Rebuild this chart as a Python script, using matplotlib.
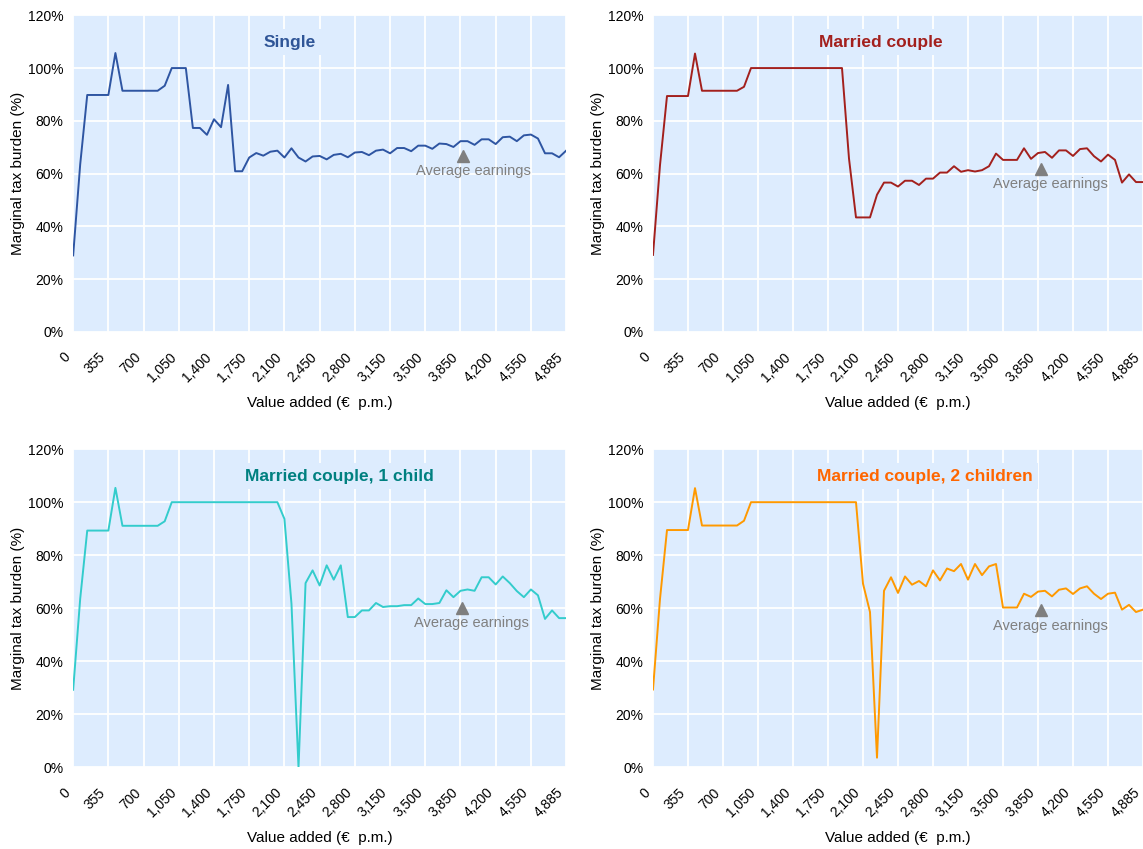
import matplotlib.pyplot as plt
import numpy as np

plt.rcParams['font.family'] = ['Liberation Sans', 'DejaVu Sans']

# Marginal tax burden (%) per income step (71 steps)
single = [29, 63.5, 89.8, 89.8, 89.8, 89.8, 105.7, 91.4, 91.4, 91.4,
          91.4, 91.4, 91.4, 93.3, 100, 100, 100, 77.3, 77.3, 74.7,
          80.6, 77.6, 93.6, 60.9, 60.9, 66.1, 67.8, 66.8, 68.3, 68.7,
          66.1, 69.6, 66.1, 64.6, 66.5, 66.7, 65.4, 67.1, 67.5, 66.2,
          68.0, 68.2, 67.0, 68.7, 69.1, 67.7, 69.7, 69.7, 68.5, 70.6,
          70.6, 69.4, 71.4, 71.2, 70.1, 72.3, 72.3, 70.9, 73.0, 73.0,
          71.2, 73.8, 74.0, 72.3, 74.5, 74.8, 73.3, 67.7, 67.7, 66.2,
          68.7]
married = [29.2, 63.2, 89.4, 89.4, 89.4, 89.4, 105.5, 91.4, 91.4, 91.4,
           91.4, 91.4, 91.4, 92.9, 100, 100, 100, 100, 100, 100,
           100, 100, 100, 100, 100, 100, 100, 100, 65.7, 43.4,
           43.4, 43.4, 52.0, 56.6, 56.6, 55.1, 57.3, 57.3, 55.7, 58.1,
           58.1, 60.4, 60.4, 62.8, 60.7, 61.3, 60.8, 61.3, 62.8, 67.6,
           65.2, 65.2, 65.2, 69.6, 65.6, 67.8, 68.2, 66.0, 68.8, 68.8,
           66.7, 69.3, 69.6, 66.6, 64.6, 67.2, 65.2, 56.6, 59.7, 56.8,
           56.8]
married_1child = [29.3, 63.6, 89.3, 89.3, 89.3, 89.3, 105.4, 91.1, 91.1, 91.1,
                  91.1, 91.1, 91.1, 92.8, 100, 100, 100, 100, 100, 100,
                  100, 100, 100, 100, 100, 100, 100, 100, 100, 100,
                  93.7, 61.7, 0, 69.5, 74.3, 68.6, 76.2, 70.8, 76.2, 56.7,
                  56.7, 59.2, 59.2, 62.0, 60.5, 60.8, 60.8, 61.2, 61.2, 63.7,
                  61.6, 61.6, 62.0, 66.8, 64.2, 66.6, 67.1, 66.6, 71.7, 71.7,
                  69.0, 72.0, 69.5, 66.5, 64.2, 67.1, 64.9, 56.0, 59.2, 56.3,
                  56.3]
married_2children = [29.4, 63.5, 89.5, 89.5, 89.5, 89.5, 105.3, 91.2, 91.2, 91.2,
                     91.2, 91.2, 91.2, 93.0, 100, 100, 100, 100, 100, 100,
                     100, 100, 100, 100, 100, 100, 100, 100, 100, 100,
                     69.3, 58.6, 3.7, 66.6, 71.7, 65.8, 72.0, 68.9, 70.3, 68.3,
                     74.3, 70.5, 75.0, 74.0, 76.7, 70.8, 76.7, 72.5, 75.8, 76.7,
                     60.3, 60.3, 60.3, 65.5, 64.3, 66.3, 66.6, 64.5, 67.0, 67.5,
                     65.4, 67.5, 68.3, 65.5, 63.5, 65.5, 65.9, 59.5, 61.3, 58.6,
                     59.5]

tick_labels = ['0', '355', '700', '1,050', '1,400', '1,750', '2,100', '2,450',
               '2,800', '3,150', '3,500', '3,850', '4,200', '4,550', '4,885']
titles = ['Single', 'Married couple', 'Married couple, 1 child',
          'Married couple, 2 children']
line_colors = ['#2E55A2', '#A3201D', '#33CCCC', '#FF9900']
title_colors = ['#2F5597', '#A3201D', '#008080', '#FF6600']
# where the "Average earnings" marker sits (step index, % value)
avg_pos = [(55.4, 66.7), (55.4, 61.7), (55.2, 60.1), (55.4, 59.2)]
title_x = [0.44, 0.465, 0.54, 0.555]

series = [single, married, married_1child, married_2children]
x = np.arange(len(single))
bg = '#DDECFE'

fig = plt.figure(figsize=(11.43, 8.49), dpi=100)
boxes = [[0.064, 0.609, 0.4313, 0.373],
         [0.5713, 0.609, 0.4287, 0.373],
         [0.064, 0.096, 0.4313, 0.375],
         [0.5713, 0.096, 0.4287, 0.375]]

for k in range(4):
    ax = fig.add_axes(boxes[k])
    ax.set_facecolor(bg)
    ax.plot(x, series[k], color=line_colors[k], lw=1.4, zorder=3)
    ax.set_xlim(0, 70)
    ax.set_ylim(0, 120)
    ax.set_xticks(np.arange(0, 71, 5))
    # anchor at the lower right corner so the last label stays inside
    ax.set_xticklabels(tick_labels, rotation=45, ha='right', va='bottom',
                       rotation_mode='anchor', fontsize=10)
    ax.set_yticks(np.arange(0, 121, 20))
    ax.set_yticklabels([f'{v}%' for v in range(0, 121, 20)], fontsize=10)
    ax.tick_params(axis='y', length=0, pad=7)
    ax.tick_params(axis='x', length=0, pad=20)
    ax.grid(True, color='white', lw=1.3, zorder=1)
    ax.set_axisbelow(True)
    for s in ax.spines.values():
        s.set_visible(False)
    ax.set_ylabel('Marginal tax burden (%)', fontsize=11, labelpad=2)
    ax.set_xlabel('Value added (€  p.m.)', fontsize=11, labelpad=8)

    ax.text(title_x[k], 0.915, titles[k], transform=ax.transAxes,
            ha='center', va='center', fontsize=12.5, fontweight='bold',
            color=title_colors[k], zorder=4,
            bbox=dict(facecolor=bg, edgecolor='none', pad=4))

    ax_x, ax_y = avg_pos[k]
    ax.plot(ax_x, ax_y, marker='^', ms=9, color='#7F7F7F', zorder=4)
    ax.text(ax_x + 1.4, ax_y - 5.8, 'Average earnings', ha='center',
            va='center', fontsize=10.5, color='#808080', zorder=4)

fig.savefig('out.png', dpi=100)
